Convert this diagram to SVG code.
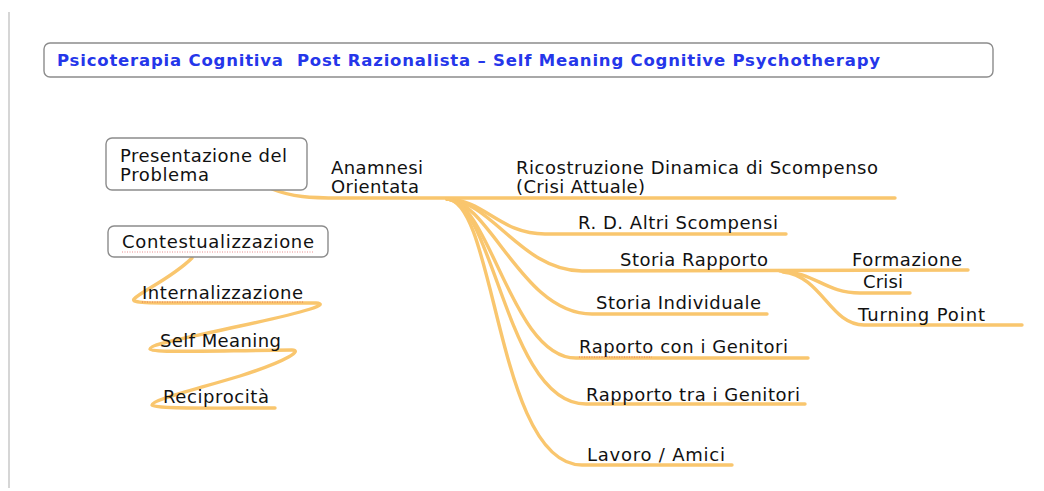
<svg xmlns="http://www.w3.org/2000/svg" width="1044" height="491" viewBox="0 0 1044 491">
<style>
.box{fill:#fff;stroke:#8c8c8c;stroke-width:1.4}
.t{font-family:"DejaVu Sans","Liberation Sans",sans-serif;font-size:18px;fill:#111}
.title{font-family:"DejaVu Sans","Liberation Sans",sans-serif;font-size:16.5px;font-weight:bold;fill:#2536ea}
.br{fill:none;stroke:#f9c66e;stroke-width:3.4;stroke-linecap:round;stroke-linejoin:round}
.spell{fill:none;stroke:#e04040;stroke-width:1;stroke-dasharray:1 1.5;opacity:0.6}
</style>
<rect width="1044" height="491" fill="#fff"/>
<line x1="9" y1="12" x2="9" y2="488" stroke="#c8c8c8" stroke-width="1.5"/>

<g id="connectors">
<path class="br" d="M272,189 C292,197 310,198 340,198 L895,198"/>
<path class="br" d="M447,199 C485,200 500,234 545,234 L786,234"/>
<path class="br" d="M447,199 C492,201 522,271 582,271 L968,270"/>
<path class="br" d="M447,199 C490,201 522,314 592,314 L767,314"/>
<path class="br" d="M447,199 C490,201 512,358 576,358 L808,358"/>
<path class="br" d="M447,199 C494,201 507,404 586,404 L805,404"/>
<path class="br" d="M447,199 C496,201 497,465 582,465 L732,465"/>
<path class="br" d="M780,271 C815,272 825,293 860,293 L910,293"/>
<path class="br" d="M783,272 C822,276 830,325 864,325 L1022,325"/>
<path class="br" d="M192,258 C172,278 140,292 134,299 C130,304 160,303 200,303 L316,303 C330,304 310,311 240,326 C182,339 150,344 150,349 C152,353 200,351 292,350 C302,350 290,360 240,376 C190,391 152,400 152,405 C155,409 200,408 275,408"/>
</g>

<g id="title">
<rect class="box" x="44" y="43" width="949" height="34" rx="6"/>
<text class="title" x="57" y="66" textLength="823" xml:space="preserve">Psicoterapia Cognitiva  Post Razionalista – Self Meaning Cognitive Psychotherapy</text>
</g>

<g id="presentazione">
<rect class="box" x="106" y="138" width="201" height="52" rx="6"/>
<text class="t" x="120" y="162" textLength="167">Presentazione del</text>
<text class="t" x="120" y="181" textLength="89">Problema</text>
</g>

<g id="anamnesi">
<text class="t" x="331" y="174" textLength="92">Anamnesi</text>
<text class="t" x="331" y="193" textLength="88">Orientata</text>
</g>

<g id="contestualizzazione">
<rect class="box" x="108" y="226" width="220" height="31" rx="6"/>
<text class="t" x="122" y="248" textLength="192">Contestualizzazione</text>
<path class="spell" d="M122,252 L314,252"/>
</g>

<g id="internalizzazione">
<text class="t" x="142" y="299" textLength="161">Internalizzazione</text>
<path class="spell" d="M142,302 L303,302"/>
</g>
<g id="selfmeaning"><text class="t" x="160" y="347" textLength="121">Self Meaning</text></g>
<g id="reciprocita"><text class="t" x="163" y="403" textLength="106">Reciprocità</text></g>

<g id="ricostruzione">
<text class="t" x="516" y="174" textLength="362">Ricostruzione Dinamica di Scompenso</text>
<text class="t" x="516" y="193" textLength="129">(Crisi Attuale)</text>
</g>
<g id="rd"><text class="t" x="578" y="229" textLength="200">R. D. Altri Scompensi</text></g>
<g id="storiarapporto"><text class="t" x="620" y="266" textLength="148">Storia Rapporto</text></g>
<g id="formazione"><text class="t" x="852" y="266" textLength="110">Formazione</text></g>
<g id="crisi"><text class="t" x="863" y="288" textLength="40">Crisi</text></g>
<g id="turning"><text class="t" x="858" y="321" textLength="127">Turning Point</text></g>
<g id="storiaind"><text class="t" x="596" y="309" textLength="165">Storia Individuale</text></g>
<g id="raportocon">
<text class="t" x="579" y="353" textLength="209">Raporto con i Genitori</text>
<path class="spell" d="M579,357 L652,357"/>
</g>
<g id="rapportotra"><text class="t" x="586" y="401" textLength="214">Rapporto tra i Genitori</text></g>
<g id="lavoro"><text class="t" x="587" y="461" textLength="138">Lavoro / Amici</text></g>
</svg>
